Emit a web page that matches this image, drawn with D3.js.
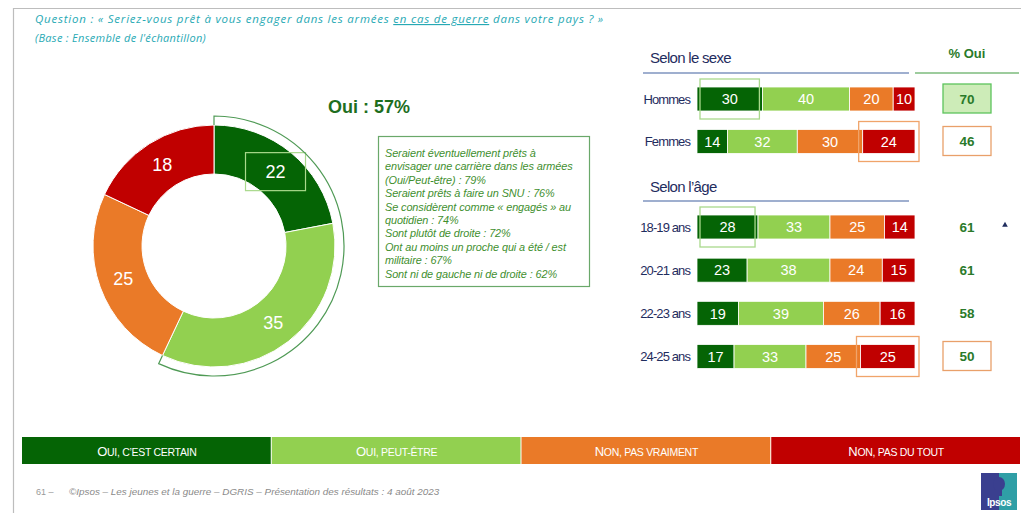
<!DOCTYPE html>
<html>
<head>
<meta charset="utf-8">
<script src="https://cdn.jsdelivr.net/npm/d3@7"></script>
<style>
	body { margin: 0; background: #fff; }
	svg { display: block; }
	.cond { font-family: "Liberation Sans Narrow", "Liberation Sans", Arial, sans-serif; }
</style>
</head>
<body>
<div id="chartDiv"></div>
<script>
;(function() {

	var width = 1021;
	var height = 513;

	// donut (ensemble)
	var answers = ["Oui, c'est certain", "Oui, peut-être", "Non, pas vraiment", "Non, pas du tout"];
	var legendLabels = ["Oui, c’est certain", "Oui, peut-être", "Non, pas vraiment", "Non, pas du tout"];
	var totalValues = [22, 35, 25, 18];
	var ouiTotal = 57;

	// bars by sex
	var sexCategories = ["Hommes", "Femmes"];
	var sexValues = [
		[30, 40, 20, 10],
		[14, 32, 30, 24]
	];
	var sexOui = [70, 46];

	// bars by age
	var ageCategories = ["18-19 ans", "20-21 ans", "22-23 ans", "24-25 ans"];
	var ageValues = [
		[28, 33, 25, 14],
		[23, 38, 24, 15],
		[19, 39, 26, 16],
		[17, 33, 25, 25]
	];
	var ageOui = [61, 61, 58, 50];

	var profileLines = [
		"Seraient éventuellement prêts à",
		"envisager une carrière dans les armées",
		"(Oui/Peut-être) : 79%",
		"Seraient prêts à faire un SNU : 76%",
		"Se considèrent comme « engagés » au",
		"quotidien : 74%",
		"Sont plutôt de droite : 72%",
		"Ont au moins un proche qui a été / est",
		"militaire : 67%",
		"Sont ni de gauche ni de droite : 62%"
	];

	var colors = ["#056405", "#92d050", "#ea7a28", "#c00000"];
	var navy = "#1f2d5e";
	var teal = "#27a9b4";
	var ouiGreen = "#2a7a2a";

	var chart = d3.select("#chartDiv").append("svg")
		.attr("width", width)
		.attr("height", height);

	// slide frame
	chart.append("path")
		.attr("d", "M13.5," + height + "V8.5H" + width)
		.attr("fill", "none")
		.attr("stroke", "#bdbdbd")
		.attr("stroke-width", 1.2);

	// question
	var q = chart.append("text")
		.attr("x", 35).attr("y", 23)
		.style("font-family", "'Open Sans', Lato, sans-serif")
		.style("font-style", "italic")
		.style("font-size", "11.5px")
		.style("letter-spacing", "0.78px")
		.attr("fill", teal);
	q.append("tspan").text("Question : « Seriez-vous prêt à vous engager dans les armées ");
	q.append("tspan").style("text-decoration", "underline").text("en cas de guerre");
	q.append("tspan").text(" dans votre pays ? »");

	chart.append("text")
		.attr("x", 35).attr("y", 42)
		.style("font-family", "'Open Sans', Lato, sans-serif")
		.style("font-style", "italic")
		.style("font-size", "11px")
		.style("letter-spacing", "0.3px")
		.attr("fill", teal)
		.text("(Base : Ensemble de l'échantillon)");

	drawDonut();
	drawProfileBox();
	drawBars();
	drawLegend();
	drawFooter();

	function drawDonut() {
		var cx = 214, cy = 246;
		var rIn = 72, rOut = 121;
		var g = chart.append("g").attr("transform", "translate(" + cx + "," + cy + ")");

		var pie = d3.pie().sort(null).value(function(d) { return d; });
		var arcs = pie(totalValues);
		var arc = d3.arc().innerRadius(rIn).outerRadius(rOut);
		var mid = d3.arc().innerRadius((rIn + rOut) / 2).outerRadius((rIn + rOut) / 2);

		g.selectAll(".slice")
			.data(arcs)
			.enter().append("path")
			.attr("class", "slice")
			.attr("d", arc)
			.attr("fill", function(d, i) { return colors[i]; })
			.attr("stroke", "#fff")
			.attr("stroke-width", 1);

		g.selectAll(".slabel")
			.data(arcs)
			.enter().append("text")
			.attr("class", "slabel")
			.attr("transform", function(d) { return "translate(" + mid.centroid(d) + ")"; })
			.attr("text-anchor", "middle")
			.attr("dy", "0.36em")
			.style("font-family", "'Liberation Sans', Arial, sans-serif")
			.style("font-size", "18px")
			.attr("fill", "#fff")
			.text(function(d) { return d.data; });

		// highlight box round the first label
		var c0 = mid.centroid(arcs[0]);
		g.append("rect")
			.attr("x", c0[0] - 30).attr("y", c0[1] - 19)
			.attr("width", 60).attr("height", 38)
			.attr("fill", "none")
			.attr("stroke", "#a9d98c")
			.attr("stroke-width", 1.2);

		// bracket round the "oui" share
		var a1 = ouiTotal / 100 * 2 * Math.PI;
		var rb = 130;
		var p = d3.path();
		p.moveTo(0, -rOut);
		p.lineTo(0, -rb);
		p.arc(0, 0, rb, -Math.PI / 2, a1 - Math.PI / 2, false);
		p.lineTo(rOut * Math.cos(a1 - Math.PI / 2), rOut * Math.sin(a1 - Math.PI / 2));
		g.append("path")
			.attr("d", p.toString())
			.attr("fill", "none")
			.attr("stroke", "#4f9a55")
			.attr("stroke-width", 1.2);

		chart.append("text")
			.attr("x", 369).attr("y", 113)
			.attr("text-anchor", "middle")
			.style("font-family", "'Liberation Sans', Arial, sans-serif")
			.style("font-weight", "bold")
			.style("font-size", "18px")
			.attr("fill", "#1e6e1e")
			.text("Oui : " + ouiTotal + "%");
	}

	function drawProfileBox() {
		chart.append("rect")
			.attr("x", 378.5).attr("y", 136.5)
			.attr("width", 211).attr("height", 150)
			.attr("fill", "#fff")
			.attr("stroke", "#6aa86a")
			.attr("stroke-width", 1.2);

		chart.selectAll(".profile")
			.data(profileLines)
			.enter().append("text")
			.attr("class", "profile")
			.attr("x", 385)
			.attr("y", function(d, i) { return 157 + i * 13.4; })
			.style("font-family", "'Liberation Sans', Arial, sans-serif")
			.style("font-style", "italic")
			.style("font-size", "10.9px")
			.style("letter-spacing", "-0.1px")
			.attr("fill", "#3f8f2f")
			.text(function(d) { return d; });
	}

	function drawBars() {
		var x = d3.scaleLinear().domain([0, 100]).range([697, 915]);
		var barH = 24;
		var ySex = d3.scalePoint().domain(sexCategories).range([99, 141.5]);
		var yAge = d3.scalePoint().domain(ageCategories).range([227, 356.5]);
		var oX = 967;

		// section headers
		function header(label, y) {
			chart.append("text")
				.attr("class", "cond")
				.attr("x", 650).attr("y", y)
				.style("font-size", "15px")
				.style("letter-spacing", "-0.7px")
				.attr("fill", navy)
				.text(label);
		}
		header("Selon le sexe", 63);
		header("Selon l’âge", 192);

		chart.append("line").attr("x1", 643).attr("x2", 909).attr("y1", 73).attr("y2", 73)
			.attr("stroke", "#7f94bf").attr("stroke-width", 1.5);
		chart.append("line").attr("x1", 643).attr("x2", 909).attr("y1", 201).attr("y2", 201)
			.attr("stroke", "#7f94bf").attr("stroke-width", 1.5);
		chart.append("line").attr("x1", 915).attr("x2", 1019).attr("y1", 73).attr("y2", 73)
			.attr("stroke", "#7dbb7d").attr("stroke-width", 1.5);

		chart.append("text")
			.attr("x", oX).attr("y", 58)
			.attr("text-anchor", "middle")
			.style("font-family", "'Liberation Sans', Arial, sans-serif")
			.style("font-weight", "bold")
			.style("font-size", "13px")
			.attr("fill", ouiGreen)
			.text("% Oui");

		function rows(cats, vals, oui, y) {
			cats.forEach(function(cat, r) {
				var cy = y(cat);
				var stacked = d3.cumsum(vals[r]);
				var g = chart.append("g");

				g.append("text")
					.attr("class", "cond")
					.attr("x", 690).attr("y", cy)
					.attr("dy", "0.35em")
					.attr("text-anchor", "end")
					.style("font-size", "13px")
					.style("letter-spacing", "-0.9px")
					.attr("fill", navy)
					.text(cat);

				g.selectAll("rect")
					.data(vals[r])
					.enter().append("rect")
					.attr("x", function(d, i) { return x(stacked[i] - d); })
					.attr("y", cy - barH / 2)
					.attr("width", function(d) { return x(d) - x(0); })
					.attr("height", barH)
					.attr("fill", function(d, i) { return colors[i]; })
					.attr("stroke", "#fff")
					.attr("stroke-width", 0.8);

				g.selectAll(".val")
					.data(vals[r])
					.enter().append("text")
					.attr("class", "val")
					.attr("x", function(d, i) { return x(stacked[i] - d / 2); })
					.attr("y", cy)
					.attr("dy", "0.36em")
					.attr("text-anchor", "middle")
					.style("font-family", "'Liberation Sans', Arial, sans-serif")
					.style("font-size", "14.5px")
					.attr("fill", "#fff")
					.text(function(d) { return d; });

				g.append("text")
					.attr("x", oX).attr("y", cy)
					.attr("dy", "0.36em")
					.attr("text-anchor", "middle")
					.style("font-family", "'Liberation Sans', Arial, sans-serif")
					.style("font-weight", "bold")
					.style("font-size", "13.5px")
					.attr("fill", ouiGreen)
					.text(oui[r]);
			});
		}
		rows(sexCategories, sexValues, sexOui, ySex);
		rows(ageCategories, ageValues, ageOui, yAge);

		// highlight frames on segments (first = highest, last = lowest)
		function segBox(vals, r, k, y, cat, stroke) {
			var stacked = d3.cumsum(vals[r]);
			var x0 = x(stacked[k] - vals[r][k]), x1 = x(stacked[k]);
			chart.append("rect")
				.attr("x", x0 + (k === 0 ? 3 : -4)).attr("y", y(cat) - 20)
				.attr("width", x1 - x0 + (k === 0 ? -6 : 8)).attr("height", 40)
				.attr("fill", "none")
				.attr("stroke", stroke)
				.attr("stroke-width", 1.3);
		}
		segBox(sexValues, 0, 0, ySex, "Hommes", "#a9d98c");
		segBox(sexValues, 1, 3, ySex, "Femmes", "#f0a46a");
		segBox(ageValues, 0, 0, yAge, "18-19 ans", "#a9d98c");
		segBox(ageValues, 3, 3, yAge, "24-25 ans", "#f0a46a");

		// frames on the % oui column
		function ouiBox(cy, fill, stroke) {
			chart.insert("rect", "text")
				.attr("x", oX - 24).attr("y", cy - 15)
				.attr("width", 48).attr("height", 29)
				.attr("fill", fill)
				.attr("stroke", stroke)
				.attr("stroke-width", 1.3);
		}
		ouiBox(ySex("Hommes"), "#cdecb8", "#5cc45c");
		ouiBox(ySex("Femmes"), "#fff", "#e9a06a");
		ouiBox(yAge("24-25 ans"), "#fff", "#e9a06a");

		// significance marker
		chart.append("path")
			.attr("d", d3.symbol().type(d3.symbolTriangle).size(14)())
			.attr("transform", "translate(1005," + (yAge("18-19 ans") - 2) + ")")
			.attr("fill", navy);
	}

	function drawLegend() {
		var lx = d3.scaleBand().domain(answers).range([22, 1021]).padding(0);
		var g = chart.append("g");
		g.selectAll("rect")
			.data(answers)
			.enter().append("rect")
			.attr("x", function(d) { return lx(d); })
			.attr("y", 437)
			.attr("width", lx.bandwidth() - 1)
			.attr("height", 27)
			.attr("fill", function(d, i) { return colors[i]; });

		// small caps: first letter bigger
		g.selectAll("text")
			.data(legendLabels)
			.enter().append("text")
			.attr("class", "cond")
			.attr("x", function(d, i) { return lx(answers[i]) + lx.bandwidth() / 2; })
			.attr("y", 455.5)
			.attr("text-anchor", "middle")
			.attr("fill", "#fff")
			.style("letter-spacing", "-0.3px")
			.each(function(d) {
				var t = d3.select(this);
				var parts = d.split(", ");
				t.append("tspan").style("font-size", "13px").text(parts[0].charAt(0).toUpperCase());
				t.append("tspan").style("font-size", "10.5px").text(parts[0].slice(1).toUpperCase() + ",");
				t.append("tspan").style("font-size", "10.5px").text(" " + parts[1].toUpperCase());
			});
	}

	function drawFooter() {
		chart.append("text")
			.attr("x", 36).attr("y", 495)
			.style("font-family", "'Liberation Sans', Arial, sans-serif")
			.style("font-size", "9px")
			.attr("fill", "#9a9a9a")
			.text("61 –");
		chart.append("text")
			.attr("x", 69).attr("y", 495)
			.style("font-family", "'Liberation Sans', Arial, sans-serif")
			.style("font-style", "italic")
			.style("font-size", "9.9px")
			.attr("fill", "#8a8a8a")
			.text("©Ipsos – Les jeunes et la guerre – DGRIS – Présentation des résultats : 4 août 2023");

		// Ipsos logo
		var lg = chart.append("g").attr("transform", "translate(981,473)");
		lg.append("rect").attr("width", 36).attr("height", 37).attr("fill", "#2f9fa6");
		lg.append("rect").attr("width", 18).attr("height", 37).attr("fill", "#3a3f8f");
		lg.append("ellipse").attr("cx", 18).attr("cy", 11).attr("rx", 6).attr("ry", 7).attr("fill", "#3a3f8f");
		lg.append("rect").attr("x", 15).attr("y", 16).attr("width", 6).attr("height", 7).attr("fill", "#3a3f8f");
		lg.append("text")
			.attr("x", 18).attr("y", 33)
			.attr("text-anchor", "middle")
			.style("font-family", "'Liberation Sans', Arial, sans-serif")
			.style("font-weight", "bold")
			.style("font-size", "10px")
			.style("letter-spacing", "-0.4px")
			.attr("fill", "#fff")
			.text("Ipsos");
	}

})();
</script>
</body>
</html>
